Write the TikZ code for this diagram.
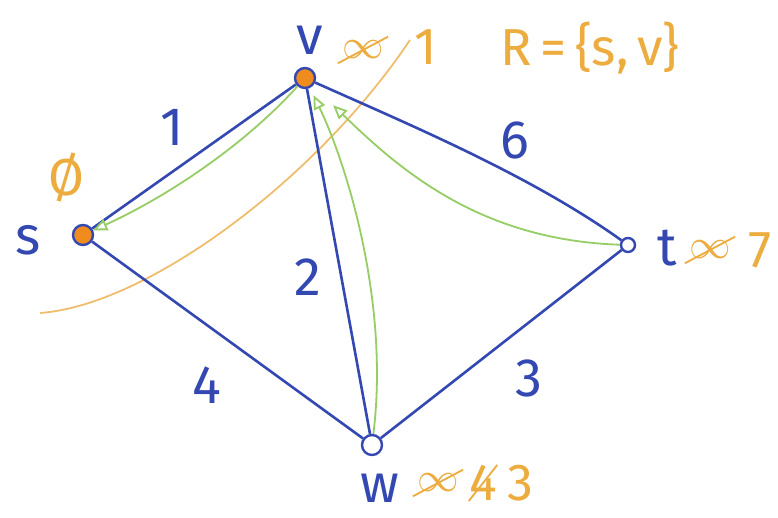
\documentclass[tikz,border=0pt]{standalone}
\usepackage{fontspec}
\setmainfont{Fira Sans}
\usetikzlibrary{arrows.meta}
\definecolor{ink}{RGB}{52,72,178}
\definecolor{ochre}{RGB}{236,172,62}
\definecolor{dotfill}{RGB}{240,140,30}
\definecolor{leaf}{RGB}{150,205,100}
\definecolor{cutline}{RGB}{238,190,110}
\begin{document}
\begin{tikzpicture}[x=0.5pt,y=-0.5pt,
  vtx/.style={circle,draw=ink,line width=1.2pt,inner sep=0pt,minimum size=#1},
  edgeline/.style={draw=ink,line width=1.3pt},
  relax/.style={draw=leaf,line width=0.9pt,-{Triangle[open,length=7pt,width=6pt]}},
  wt/.style={text=ink,font=\fontsize{27}{30}\selectfont,inner sep=0pt},
  nm/.style={text=ink,font=\fontsize{27}{30}\selectfont,inner sep=0pt},
  dist/.style={text=ochre,font=\fontsize{26}{28}\selectfont,inner sep=0pt},
  inf/.style={text=ochre,font=\fontsize{20}{22}\selectfont,inner sep=2pt},
  strike/.style={draw=ochre,line width=0.9pt}]
\path[use as bounding box,fill=white] (0,0) rectangle (778,518);

% vertices
\node[vtx=10pt,fill=dotfill] (v) at (305,78) {};
\node[vtx=10pt,fill=dotfill] (s) at (83,235) {};
\node[vtx=7pt,fill=white] (t) at (628,245) {};
\node[vtx=10pt,fill=white] (w) at (372,445) {};

% cut line
\coordinate (c0) at (40,313);
\coordinate (c1) at (410,40);
\draw[cutline,line width=0.9pt] (c0) .. controls (150,305) and (320,175) .. (c1);

% edges
\draw[edgeline] (v) -- (s);
\draw[edgeline] (v) .. controls (410,125) and (530,175) .. (t);
\draw[edgeline] (v) -- (w);
\draw[edgeline] (s) -- (w);
\draw[edgeline] (w) -- (t);

% green arrows
\draw[relax] (v) .. controls (240,150) and (160,200) .. (s);
\draw[relax,shorten >=4pt] (w) .. controls (390,300) and (345,160) .. (v);
\draw[relax,shorten >=14pt] (t) .. controls (480,240) and (400,170) .. (v);

% vertex names
\node[nm] (vl) at (310,40) {v};
\node[nm] (sl) at (28,240) {s};
\node[nm] (tl) at (667,248) {t};
\node[nm] (wl) at (380,488) {w};

% weights
\node[wt] (e1) at (172,127) {1};
\node[wt] (e2) at (308,277) {2};
\node[wt] (e6) at (515,140) {6};
\node[wt] (e4) at (207,385) {4};
\node[wt] (e3) at (529,378) {3};

% distances
\node[dist] (d0) at (66,178) {Ø};
\node[inf] (vinf) at (363,50) {$\infty$};
\draw[strike] (vinf.south west) -- (vinf.north east);
\node[dist] (vone) at (426,47) {1};
\node[dist] (R) at (590,48) {R\,=\,\{s,\,v\}};
\node[inf] (tinf) at (710,250) {$\infty$};
\draw[strike] (tinf.south west) -- (tinf.north east);
\node[dist] (tsev) at (760,250) {7};
\node[inf] (winf) at (438,483) {$\infty$};
\draw[strike] (winf.south west) -- (winf.north east);
\node[dist] (wfour) at (483,483) {4};
\draw[strike] (wfour.south west) -- (wfour.north east);
\node[dist] (wthree) at (520,483) {3};
\end{tikzpicture}
\end{document}
